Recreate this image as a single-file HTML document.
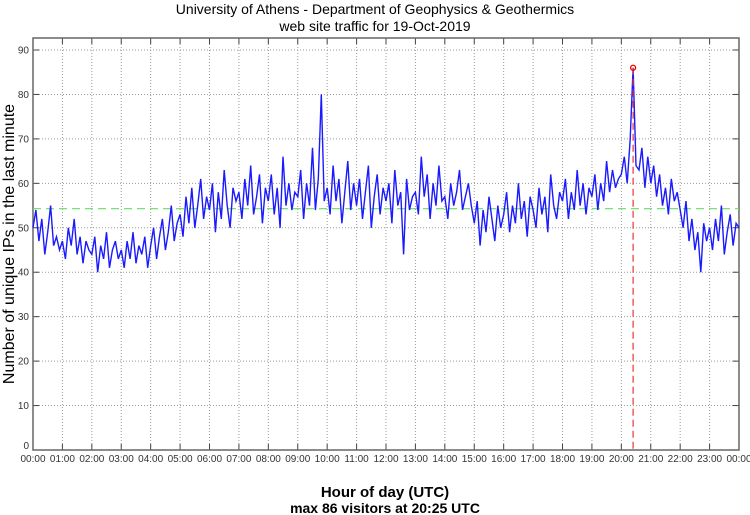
<!DOCTYPE html>
<html><head><meta charset="utf-8">
<style>
html,body{margin:0;padding:0;background:#fff;}
svg{display:block;font-family:"Liberation Sans",sans-serif;}
</style></head>
<body>
<svg id="chart" width="750" height="515" viewBox="0 0 750 515" xmlns="http://www.w3.org/2000/svg">
<text x="375" y="14" font-size="14" text-anchor="middle">University of Athens - Department of Geophysics &amp; Geothermics</text>
<text x="375" y="31" font-size="14" text-anchor="middle">web site traffic for 19-Oct-2019</text>
<text transform="translate(14,244) rotate(-90)" font-size="16" text-anchor="middle">Number of unique IPs in the last minute</text>
<text x="385" y="497" font-size="15" font-weight="bold" text-anchor="middle">Hour of day (UTC)</text>
<text x="385" y="513" font-size="14" font-weight="bold" text-anchor="middle">max 86 visitors at 20:25 UTC</text>
<g id="grid"></g>
<g id="axes"></g>
<g id="series"></g>
</svg>
<script>
const hourTicks = ["00:00","01:00","02:00","03:00","04:00","05:00","06:00","07:00","08:00","09:00","10:00","11:00","12:00","13:00","14:00","15:00","16:00","17:00","18:00","19:00","20:00","21:00","22:00","23:00","00:00"];
const yTicks = [0,10,20,30,40,50,60,70,80,90];
const meanValue = 54.3;
const stepMinutes = 6;
const visitors = [
50,54,47,52,44,49,55,46,48,45,
47,43,50,46,52,44,48,42,47,45,
44,48,40,46,43,49,41,45,47,43,
45,41,47,43,49,42,46,44,48,41,
46,50,43,48,52,45,49,55,47,51,
53,48,57,51,59,50,55,61,52,57,
54,60,49,58,52,63,55,50,59,56,
58,52,61,55,64,53,57,62,51,59,
56,62,53,59,50,66,55,60,54,58,
57,63,52,60,55,68,54,61,80,56,
59,53,64,56,61,51,58,65,54,60,
55,61,52,58,64,50,57,62,53,59,
56,60,51,63,55,58,44,61,54,57,
58,53,66,57,62,52,60,55,64,56,
57,52,60,55,58,63,54,57,60,55,
51,56,46,54,49,57,52,47,55,50,
53,58,49,55,51,60,52,56,48,57,
54,50,59,53,57,49,62,55,52,58,
56,61,52,58,54,63,55,60,53,59,
57,62,54,60,56,65,58,63,59,61,
62,66,60,70,86,64,63,68,59,66,
60,64,57,62,55,59,53,61,56,58,
54,50,56,47,52,45,49,40,51,47,
50,45,52,47,55,44,49,53,46,51,
50];

const NS="http://www.w3.org/2000/svg";
const L=33,R=739,T=38,B=450,yMax=92.7;
const xs=m=>L+(R-L)*m/1440;
const ys=v=>B-(B-T)*v/yMax;
function mk(tag,parent,attrs){const e=document.createElementNS(NS,tag);for(const k in attrs)e.setAttribute(k,attrs[k]);parent.appendChild(e);return e;}
const grid=document.getElementById('grid'),axes=document.getElementById('axes'),series=document.getElementById('series');

hourTicks.forEach((t,i)=>{
  const x=xs(i*60);
  if(i>0&&i<24){const g=mk('line',grid,{x1:x,x2:x,y1:T,y2:B,stroke:'#999','stroke-width':1,'stroke-dasharray':'1,2'});
  
  }
  const tk=mk('line',axes,{x1:x,x2:x,y1:B,y2:B-6,stroke:'#444'});
  
  
  const tt=mk('line',axes,{x1:x,x2:x,y1:T,y2:T+6,stroke:'#444'});
  
  
  const lb=mk('text',axes,{x:x,y:B+12,'font-size':10,'text-anchor':'middle',fill:'#333'});
  lb.textContent=t;
  
  
});
yTicks.forEach(v=>{
  const y=ys(v);
  if(v>0){const g=mk('line',grid,{x1:L,x2:R,y1:y,y2:y,stroke:'#999','stroke-width':1,'stroke-dasharray':'1,2'});
  
  }
  const tk=mk('line',axes,{x1:L,x2:L+6,y1:y,y2:y,stroke:'#444'});
  
  
  const tr=mk('line',axes,{x1:R,x2:R-6,y1:y,y2:y,stroke:'#444'});
  
  
  const lb=mk('text',axes,{x:L-4,y:y+(v===0?-1:3.5),'font-size':10,'text-anchor':'end',fill:'#333'});
  lb.textContent=v;
  
  
});
const frame=mk('rect',axes,{x:L,y:T,width:R-L,height:B-T,fill:'none',stroke:'#666','stroke-width':1.5});



const mean=mk('line',series,{x1:L,x2:R,y1:ys(meanValue),y2:ys(meanValue),stroke:'#66dd66','stroke-width':1.2,'stroke-dasharray':'8,5'});



const pts=visitors.map((v,i)=>xs(i*stepMinutes).toFixed(1)+','+ys(v).toFixed(1)).join(' ');
const line=mk('polyline',series,{points:pts,fill:'none',stroke:'#1a1aff','stroke-width':1.4,'stroke-linejoin':'miter'});



let mi=0;visitors.forEach((v,i)=>{if(v>visitors[mi])mi=i;});
const px=xs(mi*stepMinutes),py=ys(visitors[mi]);
const vl=mk('line',series,{x1:px,x2:px,y1:py,y2:B,stroke:'#ee3333','stroke-width':1.2,'stroke-dasharray':'7,4'});


const c=mk('circle',series,{cx:px,cy:py,r:2.5,fill:'none',stroke:'#ee0000','stroke-width':1.3});


</script>
</body></html>
